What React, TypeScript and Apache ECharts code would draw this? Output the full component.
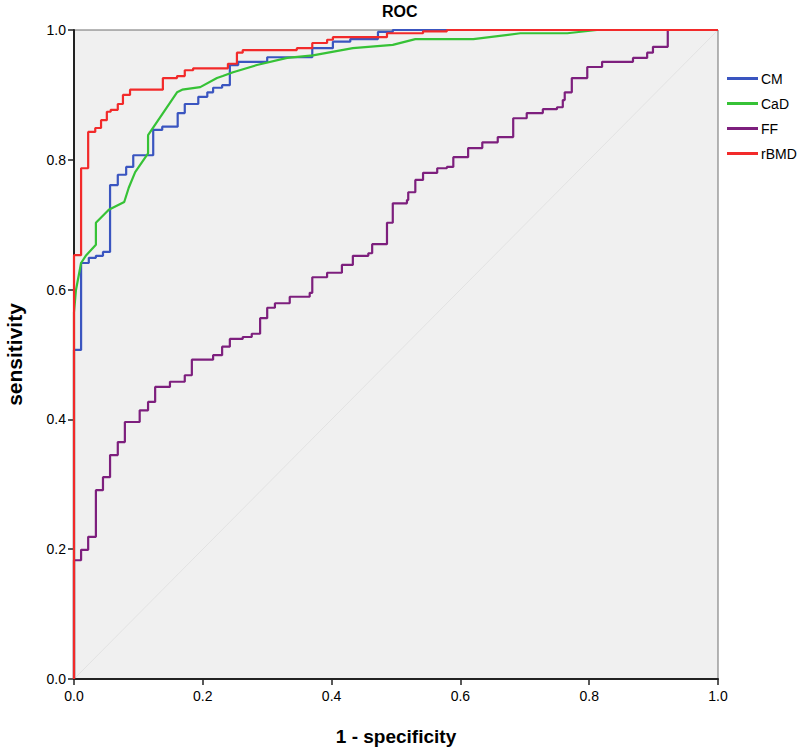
import React, { useEffect, useRef } from "react";
import * as echarts from "echarts";

const seriesNames = ["CM", "CaD", "FF", "rBMD"];
const tickLabels = ["0.0", "0.2", "0.4", "0.6", "0.8", "1.0"];

// [1 - specificity, sensitivity]
const cmPoints = [
  [0, 0], [0, 0.507], [0.011, 0.641], [0.023, 0.649], [0.034, 0.652], [0.045, 0.658],
  [0.056, 0.761], [0.068, 0.777], [0.081, 0.789], [0.092, 0.807], [0.123, 0.846],
  [0.137, 0.851], [0.161, 0.872], [0.172, 0.886], [0.193, 0.897], [0.207, 0.904],
  [0.216, 0.911], [0.23, 0.915], [0.242, 0.946], [0.255, 0.951], [0.3, 0.958],
  [0.37, 0.972], [0.402, 0.982], [0.429, 0.986], [0.472, 0.997], [0.495, 1.0], [1, 1],
];

const cadPoints = [
  [0, 0], [0, 0.565], [0.003, 0.599], [0.011, 0.641], [0.019, 0.653], [0.034, 0.669],
  [0.034, 0.703], [0.054, 0.723], [0.078, 0.735], [0.085, 0.757], [0.095, 0.781],
  [0.115, 0.81], [0.115, 0.838], [0.16, 0.904], [0.168, 0.908], [0.196, 0.912],
  [0.222, 0.926], [0.231, 0.929], [0.247, 0.935], [0.284, 0.946], [0.331, 0.957],
  [0.371, 0.961], [0.433, 0.972], [0.495, 0.977], [0.53, 0.986], [0.62, 0.986],
  [0.693, 0.995], [0.766, 0.995], [0.812, 1.0], [1, 1],
];

const ffPoints = [
  [0, 0], [0, 0.183], [0.011, 0.199], [0.022, 0.219], [0.034, 0.291], [0.045, 0.311],
  [0.056, 0.345], [0.068, 0.365], [0.079, 0.396], [0.102, 0.414], [0.115, 0.427],
  [0.126, 0.45], [0.149, 0.458], [0.172, 0.468], [0.183, 0.492], [0.216, 0.499],
  [0.23, 0.512], [0.242, 0.524], [0.262, 0.527], [0.276, 0.532], [0.289, 0.556],
  [0.3, 0.572], [0.312, 0.579], [0.335, 0.589], [0.366, 0.595], [0.37, 0.619],
  [0.393, 0.626], [0.416, 0.638], [0.433, 0.652], [0.457, 0.656], [0.463, 0.67],
  [0.486, 0.703], [0.495, 0.733], [0.517, 0.738], [0.519, 0.75], [0.53, 0.769],
  [0.542, 0.78], [0.564, 0.787], [0.579, 0.789], [0.589, 0.804], [0.612, 0.818],
  [0.634, 0.827], [0.658, 0.835], [0.682, 0.864], [0.703, 0.872], [0.728, 0.878],
  [0.75, 0.881], [0.759, 0.892], [0.762, 0.904], [0.773, 0.926], [0.797, 0.943],
  [0.82, 0.951], [0.868, 0.957], [0.89, 0.965], [0.899, 0.974], [0.922, 1.0], [1, 1],
];

const rbmdPoints = [
  [0, 0], [0, 0.653], [0.011, 0.787], [0.022, 0.843], [0.033, 0.849], [0.042, 0.861],
  [0.051, 0.874], [0.057, 0.877], [0.068, 0.886], [0.076, 0.9], [0.087, 0.908],
  [0.138, 0.926], [0.16, 0.929], [0.172, 0.938], [0.185, 0.941], [0.239, 0.948],
  [0.253, 0.965], [0.262, 0.969], [0.346, 0.972], [0.37, 0.98], [0.393, 0.985],
  [0.402, 0.989], [0.486, 0.995], [0.542, 0.998], [0.579, 1.0], [1, 1],
];

const referencePoints = [[0, 0], [1, 1]];

const colors = ["#3a55c0", "#36c236", "#7d1f7d", "#f22a2a"];

export default function App() {
  const ref = useRef<HTMLDivElement>(null);
  useEffect(() => {
    if (!ref.current) return;
    const chart = echarts.init(ref.current, null, { renderer: "svg" });
    const font = "'Liberation Sans', Arial, sans-serif";
    const narrow = "'Liberation Sans Narrow', 'Liberation Sans', Arial, sans-serif";
    const lineSeries = (name: string, data: number[][], color: string, step: any) => ({
      name,
      type: "line",
      data,
      step,
      symbol: "none",
      clip: false,
      lineStyle: { color, width: 2.2 },
      itemStyle: { color },
    });
    chart.setOption({
      animation: false,
      backgroundColor: "#ffffff",
      title: {
        text: "ROC",
        left: 377,
        top: -2,
        textStyle: { fontFamily: font, fontSize: 16, fontWeight: "bold", color: "#000" },
      },
      legend: {
        orient: "vertical",
        left: 722,
        top: 66,
        icon: "rect",
        itemWidth: 31,
        itemHeight: 3,
        itemGap: 10,
        data: seriesNames,
        textStyle: { fontFamily: font, fontSize: 14, color: "#000", lineHeight: 15, padding: [0, 0, 0, -2] },
      },
      grid: {
        left: 74,
        right: 82,
        top: 30,
        bottom: 72,
        containLabel: false,
        outerBoundsMode: "none",
        show: true,
        backgroundColor: "#f0f0f0",
        borderColor: "#6e6e6e",
        borderWidth: 1,
      },
      xAxis: {
        type: "value",
        min: 0,
        max: 1,
        interval: 0.2,
        name: "1 - specificity",
        nameLocation: "middle",
        nameGap: 48,
        nameTextStyle: { fontFamily: font, fontSize: 19, fontWeight: "bold", color: "#000" },
        axisLine: { show: true, lineStyle: { color: "#222", width: 2 } },
        axisTick: { show: true, length: 6, lineStyle: { color: "#222", width: 1.5 } },
        axisLabel: {
          fontFamily: narrow,
          fontSize: 14,
          color: "#000",
          margin: 10,
          formatter: (v: number) => tickLabels[Math.round(v * 5)],
        },
        splitLine: { show: false },
      },
      yAxis: {
        type: "value",
        min: 0,
        max: 1,
        interval: 0.2,
        name: "sensitivity",
        nameLocation: "middle",
        nameGap: 49,
        nameTextStyle: { fontFamily: font, fontSize: 21, fontWeight: "bold", color: "#000" },
        axisLine: { show: true, lineStyle: { color: "#222", width: 2 } },
        axisTick: { show: true, length: 6, lineStyle: { color: "#222", width: 1.5 } },
        axisLabel: {
          fontFamily: narrow,
          fontSize: 14,
          color: "#000",
          margin: 8,
          formatter: (v: number) => tickLabels[Math.round(v * 5)],
        },
        splitLine: { show: false },
      },
      series: [
        {
          name: "ref",
          type: "line",
          data: referencePoints,
          symbol: "none",
          silent: true,
          lineStyle: { color: "#e2e2e2", width: 1 },
        },
        lineSeries("CM", cmPoints, colors[0], "end"),
        lineSeries("CaD", cadPoints, colors[1], false),
        lineSeries("FF", ffPoints, colors[2], "end"),
        lineSeries("rBMD", rbmdPoints, colors[3], "end"),
      ],
    });
    return () => chart.dispose();
  }, []);
  return (
    <div
      ref={ref}
      style={{ position: "fixed", left: 0, top: 0, width: 800, height: 751 }}
    />
  );
}
